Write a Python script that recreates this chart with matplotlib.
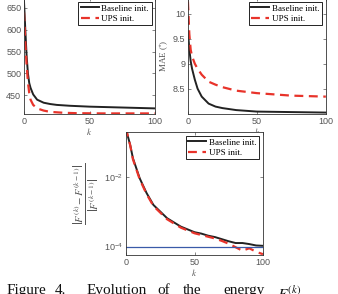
import matplotlib.pyplot as plt
import numpy as np

plt.rcParams['mathtext.fontset'] = 'stix'

# Energy F^(k) (top-left)
k_energy = [0, 1, 2, 3, 4, 5, 7, 10, 15, 20, 25, 35, 50, 75, 100]
energy_base = [665, 600, 540, 500, 478, 467, 452, 440, 433, 430, 428, 426, 424, 422, 420]
k_energy_ups = [0, 1, 2, 3, 4, 5, 7, 10, 15, 20, 30, 40, 60, 100]
energy_ups = [640, 570, 520, 480, 455, 440, 428, 420, 415, 412, 410, 409, 408.5, 408.5]

# MAE in degrees (top-right)
k_mae = [0, 1, 2, 3, 5, 7, 10, 15, 20, 25, 35, 50, 75, 100]
mae_base = [9.65, 9.3, 9.05, 8.9, 8.68, 8.5, 8.34, 8.2, 8.14, 8.11, 8.07, 8.04, 8.03, 8.02]
mae_ups = [10.25, 9.6, 9.28, 9.15, 9.0, 8.9, 8.78, 8.64, 8.58, 8.53, 8.46, 8.41, 8.36, 8.34]

# Relative energy change (bottom), log10 values
k_rel = [0, 1, 3, 5, 10, 15, 20, 30, 40, 50, 55, 60, 65, 70, 75, 80, 85, 90, 95, 100]
log_rel_base = [-0.6, -0.8, -1.09, -1.47, -2.05, -2.47, -2.81, -3.19, -3.43, -3.59, -3.63,
                -3.69, -3.73, -3.79, -3.85, -3.9, -3.9, -3.93, -3.97, -3.98]
log_rel_ups = [-0.6, -0.8, -1.1, -1.5, -2.08, -2.5, -2.84, -3.22, -3.46, -3.62, -3.67,
               -3.72, -3.77, -3.84, -3.92, -4.02, -4.12, -4.05, -4.15, -4.22]
threshold = 1e-4

rel_base = [10 ** v for v in log_rel_base]
rel_ups = [10 ** v for v in log_rel_ups]

black = '#222222'
red = '#e8332a'
gray = '#555555'
tick_fs = 6.5

fig = plt.figure(figsize=(3.38, 2.94), dpi=100)
ax1 = fig.add_axes([0.071, 0.612, 0.388, 0.395])
ax2 = fig.add_axes([0.556, 0.612, 0.408, 0.395])
ax3 = fig.add_axes([0.373, 0.133, 0.405, 0.418])


def style(ax):
    ax.tick_params(direction='in', length=2, width=0.5, labelsize=tick_fs,
                   colors=gray, top=True, right=True, pad=2)
    for s in ax.spines.values():
        s.set_linewidth(0.6)
        s.set_color('#333333')
    for lab in ax.get_xticklabels() + ax.get_yticklabels():
        lab.set_family('Liberation Sans')
    ax.set_xlim(0, 100)
    ax.set_xticks([0, 50, 100])
    ax.set_xlabel('$k$', fontsize=6.5, color=gray, labelpad=0)
    leg = ax.legend(loc='upper right', prop={'family': 'Liberation Serif', 'size': 6.5},
                    fancybox=False, edgecolor='black', framealpha=1, handlelength=2.0,
                    borderpad=0.3, labelspacing=0.2, handletextpad=0.3, borderaxespad=0.4)
    leg.get_frame().set_linewidth(0.6)


ax1.plot(k_energy, energy_base, color=black, lw=1.4, label='Baseline init.')
ax1.plot(k_energy_ups, energy_ups, color=red, lw=1.6, ls=(0, (4, 2.5)), label='UPS init.')
ax1.set_ylim(407, 673)
ax1.set_yticks([450, 500, 550, 600, 650])
ax1.set_ylabel('$F^{(k)}$', fontsize=7.5, color=gray, labelpad=5)
style(ax1)

ax2.plot(k_mae, mae_base, color=black, lw=1.4, label='Baseline init.')
ax2.plot(k_mae, mae_ups, color=red, lw=1.6, ls=(0, (4, 2.5)), label='UPS init.')
ax2.set_ylim(7.99, 10.32)
ax2.set_yticks([8.5, 9, 9.5, 10])
ax2.set_yticklabels(['8.5', '9', '9.5', '10'])
ax2.set_ylabel('MAE ($^{\\circ}$)', fontsize=6.5, color=gray, family='Liberation Serif', labelpad=2)
style(ax2)

ax3.plot(k_rel, rel_base, color=black, lw=1.4, label='Baseline init.')
ax3.plot(k_rel, rel_ups, color=red, lw=1.6, ls=(0, (4, 2.5)), label='UPS init.')
ax3.axhline(threshold, color='#3a5aa8', lw=0.9)
ax3.set_yscale('log')
ax3.set_ylim(10 ** -4.24, 10 ** -0.72)
ax3.set_yticks([1e-4, 1e-2])
ax3.minorticks_off()
ax3.set_ylabel(r'$\frac{\left|F^{(k)}-F^{(k-1)}\right|}{\left|F^{(k-1)}\right|}$',
               fontsize=11, color=gray, labelpad=2)
style(ax3)

# caption, spread like a justified line
caption_words = ['Figure', '4.', 'Evolution', 'of', 'the', 'energy', '$F^{(k)}$']
caption_x = [7, 55, 87, 157, 183, 223, 277]
for w, x in zip(caption_words, caption_x):
    fig.text(x / 338, 1 - 284 / 294, w, fontsize=11, family='Liberation Serif',
             va='top', ha='left', color='#111111')

fig.savefig('out.png', dpi=100)
